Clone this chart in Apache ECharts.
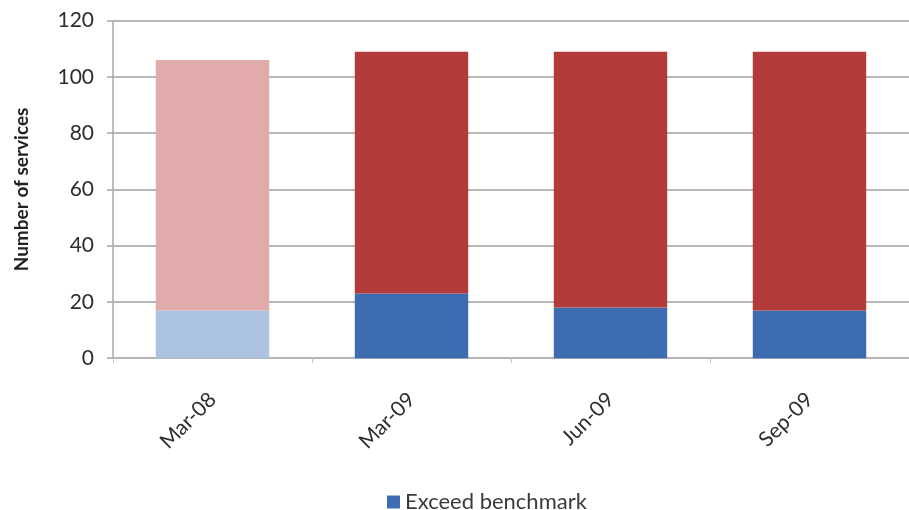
<!DOCTYPE html>
<html>
<head>
<meta charset="utf-8">
<script src="https://cdn.jsdelivr.net/npm/echarts@6/dist/echarts.min.js"></script>
<style>
  html, body { margin: 0; padding: 0; background: #ffffff; }
  #chart { width: 909px; height: 510px; }
</style>
</head>
<body>
<div id="chart"></div>
<script>
// Quarterly snapshots of services against the benchmark
const categories = ['Mar-08', 'Mar-09', 'Jun-09', 'Sep-09'];
const exceedBenchmark = [17, 23, 18, 17];
const withinBenchmark = [89, 86, 91, 92];
const yTicks = [0, 20, 40, 60, 80, 100, 120];

// First snapshot is drawn in paler tones
const blueShades = ['#abc2e1', '#3d6cb1', '#3d6cb1', '#3d6cb1'];
const redShades = ['#e1abab', '#b33c3a', '#b33c3a', '#b33c3a'];

const FONT = 'Lato';

function styled(values, shades) {
  return values.map((v, i) => ({ value: v, itemStyle: { color: shades[i] } }));
}

const chart = echarts.init(document.getElementById('chart'), null, { renderer: 'canvas' });
chart.setOption({
  animation: false,
  backgroundColor: '#ffffff',
  textStyle: { fontFamily: FONT },
  grid: { left: 113, top: 20.7, width: 800, height: 337.5, containLabel: false },
  legend: {
    data: [{ name: 'Exceed benchmark', icon: 'rect' }],
    left: 382,
    top: 486,
    itemWidth: 13,
    itemHeight: 13,
    itemGap: 8,
    textStyle: { fontFamily: FONT, fontSize: 22, color: '#3a3a3a' }
  },
  xAxis: {
    type: 'category',
    data: categories,
    axisLine: { lineStyle: { color: '#b5b5b5', width: 2 } },
    axisTick: { show: true, length: 5, lineStyle: { color: '#c8c8c8' } },
    axisLabel: {
      rotate: 45,
      margin: 38,
      fontFamily: FONT,
      fontSize: 21,
      color: '#2e2e2e'
    }
  },
  yAxis: {
    type: 'value',
    min: yTicks[0],
    max: yTicks[yTicks.length - 1],
    interval: yTicks[1] - yTicks[0],
    name: 'Number of services',
    nameLocation: 'middle',
    nameGap: 82,
    nameTextStyle: { fontFamily: FONT, fontSize: 19, fontWeight: 'bold', color: '#222222' },
    axisLine: { show: true, lineStyle: { color: '#a8a8a8', width: 1.5 } },
    axisTick: { show: true, length: 6, inside: false, lineStyle: { color: '#a8a8a8', width: 1.5 } },
    axisLabel: { margin: 19, fontFamily: FONT, fontSize: 21, color: '#2e2e2e' },
    splitLine: { lineStyle: { color: '#b8b8b8', width: 2 } }
  },
  series: [
    {
      name: 'Exceed benchmark',
      type: 'bar',
      stack: 'services',
      barWidth: '57%',
      itemStyle: { color: blueShades[1] },
      data: styled(exceedBenchmark, blueShades)
    },
    {
      name: 'Within benchmark',
      type: 'bar',
      stack: 'services',
      barWidth: '57%',
      itemStyle: { color: redShades[1] },
      data: styled(withinBenchmark, redShades)
    }
  ]
});
</script>
</body>
</html>
